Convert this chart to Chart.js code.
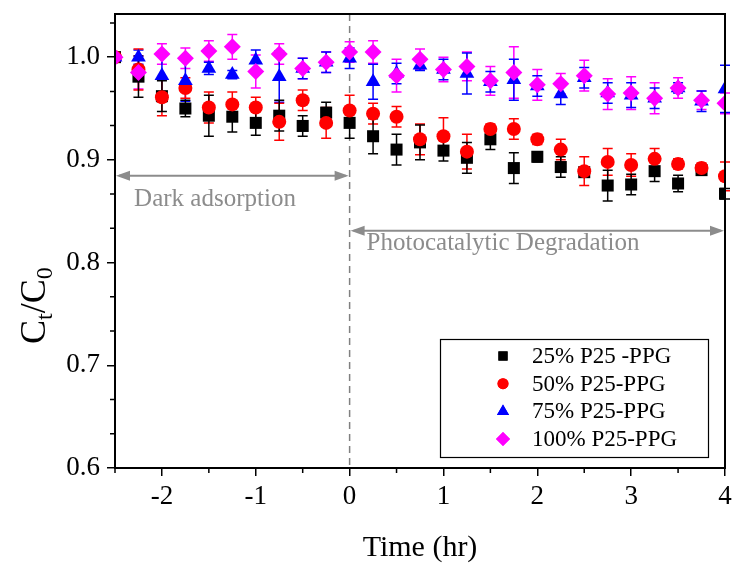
<!DOCTYPE html>
<html>
<head>
<meta charset="utf-8">
<script src="https://cdn.jsdelivr.net/npm/chart.js@4.4.3/dist/chart.umd.min.js"></script>
<style>
  html, body { margin: 0; padding: 0; background: #fff; }
  #wrap { width: 734px; height: 563px; }
</style>
</head>
<body>
<div id="wrap"><canvas id="myChart" width="734" height="563"></canvas></div>
<script>
const times = [-2.5, -2.25, -2, -1.75, -1.5, -1.25, -1, -0.75, -0.5, -0.25, 0, 0.25, 0.5, 0.75, 1, 1.25, 1.5, 1.75, 2, 2.25, 2.5, 2.75, 3, 3.25, 3.5, 3.75, 4]

const p25 = [1.000, 0.981, 0.962, 0.950, 0.943, 0.942, 0.936, 0.943, 0.933, 0.946, 0.936, 0.923, 0.910, 0.917, 0.909, 0.902, 0.920, 0.892, 0.903, 0.893, 0.888, 0.875, 0.876, 0.889, 0.877, 0.890, 0.867]
const p50 = [1.000, 0.988, 0.961, 0.970, 0.951, 0.954, 0.951, 0.937, 0.958, 0.936, 0.948, 0.945, 0.942, 0.920, 0.923, 0.908, 0.930, 0.930, 0.920, 0.910, 0.889, 0.898, 0.895, 0.901, 0.896, 0.892, 0.884]
const p75 = [1.000, 1.000, 0.982, 0.977, 0.989, 0.983, 0.997, 0.981, 0.989, 0.995, 0.999, 0.976, 0.984, 0.992, 0.988, 0.984, 0.976, 0.978, 0.972, 0.964, 0.980, 0.965, 0.963, 0.960, 0.970, 0.957, 0.969]
const p100 = [1.000, 0.985, 1.003, 0.999, 1.006, 1.010, 0.986, 1.003, 0.989, 0.995, 1.005, 1.005, 0.982, 0.998, 0.988, 0.991, 0.977, 0.985, 0.973, 0.974, 0.982, 0.964, 0.965, 0.960, 0.970, 0.958, 0.955]

// error bar half widths
const err25 = [0, 0.020, 0.015, 0.008, 0.020, 0.015, 0.012, 0.015, 0.010, 0.010, 0.015, 0.017, 0.015, 0.017, 0.010, 0.015, 0.010, 0.015, 0.005, 0.010, 0.005, 0.015, 0.010, 0.010, 0.008, 0.005, 0.005]
const err50 = [0, 0.020, 0.018, 0.010, 0.015, 0.012, 0.010, 0.018, 0.010, 0.015, 0.015, 0.010, 0.010, 0.015, 0.018, 0.017, 0.005, 0.010, 0.005, 0.010, 0.014, 0.013, 0.011, 0.010, 0.005, 0.005, 0.014]
const err75 = [0, 0.007, 0.020, 0.020, 0.006, 0.004, 0.010, 0.025, 0.010, 0.010, 0.010, 0.017, 0.010, 0.005, 0.010, 0.020, 0.010, 0.020, 0.010, 0.010, 0.010, 0.010, 0.012, 0.010, 0.005, 0.010, 0.023]
const err100 = [0, 0.016, 0.010, 0.010, 0.010, 0.012, 0.016, 0.010, 0.010, 0.010, 0.010, 0.011, 0.016, 0.010, 0.012, 0.014, 0.014, 0.025, 0.015, 0.010, 0.015, 0.015, 0.016, 0.015, 0.010, 0.009, 0.010]

const seriesLabels = ['25% P25 -PPG', '50% P25-PPG', '75% P25-PPG', '100% P25-PPG']
const xTicks = [-2, -1, 0, 1, 2, 3, 4]
const yTicks = [0.6, 0.7, 0.8, 0.9, 1.0]

const serif = '"Liberation Serif", "Times New Roman", serif'

const series = [
  {label: seriesLabels[0], values: p25, errs: err25, color: '#000000', style: 'rect', radius: 8.5, order: 4},
  {label: seriesLabels[1], values: p50, errs: err50, color: '#ff0000', style: 'circle', radius: 7, order: 3},
  {label: seriesLabels[2], values: p75, errs: err75, color: '#0000ff', style: 'triangle', radius: 8.5, order: 2},
  {label: seriesLabels[3], values: p100, errs: err100, color: '#ff00ff', style: 'rectRot', radius: 8.5, order: 1}
]

const datasets = series.map(s => ({
  label: s.label,
  data: times.map((t, i) => ({x: t, y: s.values[i]})),
  pointStyle: s.style,
  pointRadius: s.radius,
  pointBackgroundColor: s.color,
  pointBorderColor: s.color,
  pointBorderWidth: 0,
  showLine: false,
  order: s.order
}))

const errorBars = {
  id: 'errorBars',
  beforeDatasetsDraw(chart) {
    const ctx = chart.ctx
    const xs = chart.scales.x, ys = chart.scales.y
    ctx.save()
    series.slice().reverse().forEach(s => {
      ctx.strokeStyle = s.color
      ctx.lineWidth = 1.5
      times.forEach((t, i) => {
        const e = s.errs[i]
        if (!e) return
        const px = xs.getPixelForValue(t)
        const top = ys.getPixelForValue(s.values[i] + e)
        const bot = ys.getPixelForValue(s.values[i] - e)
        ctx.beginPath()
        ctx.moveTo(px, top); ctx.lineTo(px, bot)
        ctx.moveTo(px - 5, top); ctx.lineTo(px + 5, top)
        ctx.moveTo(px - 5, bot); ctx.lineTo(px + 5, bot)
        ctx.stroke()
      })
    })
    ctx.restore()
  }
}

function arrowHead(ctx, x, y, dir) {
  ctx.beginPath()
  ctx.moveTo(x, y)
  ctx.lineTo(x - dir * 14, y - 5)
  ctx.lineTo(x - dir * 14, y + 5)
  ctx.closePath()
  ctx.fill()
}

const decorations = {
  id: 'decorations',
  beforeDatasetsDraw(chart) {
    const ctx = chart.ctx
    const xs = chart.scales.x, ys = chart.scales.y
    const a = chart.chartArea
    ctx.save()
    // dashed line at t = 0
    ctx.strokeStyle = '#808080'
    ctx.lineWidth = 1.5
    ctx.setLineDash([7, 5])
    const x0 = xs.getPixelForValue(0)
    ctx.beginPath(); ctx.moveTo(x0, a.top); ctx.lineTo(x0, a.bottom); ctx.stroke()
    ctx.setLineDash([])
    // arrows
    ctx.fillStyle = '#8c8c8c'
    ctx.strokeStyle = '#8c8c8c'
    ctx.lineWidth = 2
    const yd = ys.getPixelForValue(0.8845)
    const xl = xs.getPixelForValue(-2.5)
    ctx.beginPath(); ctx.moveTo(xl + 4, yd); ctx.lineTo(x0 - 4, yd); ctx.stroke()
    arrowHead(ctx, xl + 1, yd, -1)
    arrowHead(ctx, x0 - 1, yd, 1)
    const yp = ys.getPixelForValue(0.831)
    const xr = xs.getPixelForValue(4)
    ctx.beginPath(); ctx.moveTo(x0 + 4, yp); ctx.lineTo(xr - 4, yp); ctx.stroke()
    arrowHead(ctx, x0 + 1, yp, -1)
    arrowHead(ctx, xr - 1, yp, 1)
    ctx.fillStyle = '#8c8c8c'
    ctx.font = '25px ' + serif
    ctx.textAlign = 'center'
    ctx.textBaseline = 'middle'
    ctx.fillText('Dark adsorption', 215, yd + 24)
    ctx.fillText('Photocatalytic Degradation', 503, yp + 13)
    ctx.restore()
  },
  afterDraw(chart) {
    const ctx = chart.ctx
    const xs = chart.scales.x, ys = chart.scales.y
    const a = chart.chartArea
    ctx.save()
    // frame
    ctx.strokeStyle = '#000'
    ctx.lineWidth = 2
    ctx.strokeRect(a.left, a.top, a.right - a.left, a.bottom - a.top)
    // minor ticks
    ctx.lineWidth = 1.5
    ctx.beginPath()
    for (let t = -2.5; t <= 4; t += 1) {
      const px = xs.getPixelForValue(t)
      ctx.moveTo(px, a.bottom); ctx.lineTo(px, a.bottom + 5)
    }
    for (let k = 0; k <= 13; k++) {
      const v = 0.6 + k / 30
      if (k % 3 === 0) continue
      const py = ys.getPixelForValue(v)
      ctx.moveTo(a.left, py); ctx.lineTo(a.left - 5, py)
    }
    ctx.stroke()
    // axis titles
    ctx.fillStyle = '#000'
    ctx.font = '30px ' + serif
    ctx.textAlign = 'center'
    ctx.textBaseline = 'middle'
    ctx.fillText('Time (hr)', 420, 548)
    ctx.translate(36, 292)
    ctx.rotate(-Math.PI / 2)
    ctx.textAlign = 'left'
    const big = '36px ' + serif, small = '24px ' + serif
    let cx = -52
    ctx.font = big; ctx.fillText('C', cx, 0); cx += ctx.measureText('C').width
    ctx.font = small; ctx.fillText('t', cx, 10); cx += ctx.measureText('t').width
    ctx.font = big; ctx.fillText('/C', cx, 0); cx += ctx.measureText('/C').width
    ctx.font = small; ctx.fillText('0', cx, 10)
    ctx.setTransform(1, 0, 0, 1, 0, 0)
    // legend
    ctx.lineWidth = 1.2
    ctx.strokeStyle = '#000'
    ctx.strokeRect(440.5, 339.5, 268, 118)
    ctx.font = '23px ' + serif
    ctx.textAlign = 'left'
    ctx.textBaseline = 'middle'
    const sizes = [6.5, 5.5, 7, 7]
    series.forEach((s, i) => {
      const y = 356 + i * 27.7
      ctx.fillStyle = s.color
      ctx.strokeStyle = s.color
      Chart.helpers.drawPoint(ctx, {pointStyle: s.style, radius: sizes[i], rotation: 0, borderWidth: 0}, 503, y)
      ctx.fill()
      ctx.fillStyle = '#000'
      ctx.fillText(s.label, 532, y + 1)
    })
    ctx.restore()
  }
}

const config = {
  type: 'scatter',
  data: {datasets: datasets},
  options: {
    responsive: false,
    animation: false,
    layout: {padding: {left: 0, right: 9, top: 14, bottom: 0}},
    plugins: {legend: {display: false}, tooltip: {enabled: false}},
    scales: {
      x: {
        type: 'linear',
        min: -2.5,
        max: 4,
        afterBuildTicks: (scale) => { scale.ticks = xTicks.map(v => ({value: v})) },
        afterFit: (scale) => { scale.height = 95; scale.paddingLeft = 0; scale.paddingRight = 0 },
        border: {display: true, color: '#000', width: 2},
        grid: {display: true, drawOnChartArea: false, drawTicks: true, tickLength: 8, color: '#000', lineWidth: 1.5},
        ticks: {
          color: '#000',
          padding: 5,
          maxRotation: 0,
          font: {family: serif, size: 27},
          callback: (v) => String(v)
        }
      },
      y: {
        type: 'linear',
        min: 0.6,
        max: 1.042,
        afterBuildTicks: (scale) => { scale.ticks = yTicks.map(v => ({value: v})) },
        afterFit: (scale) => { scale.width = 115; scale.paddingTop = 0; scale.paddingBottom = 0 },
        border: {display: true, color: '#000', width: 2},
        grid: {display: true, drawOnChartArea: false, drawTicks: true, tickLength: 8, color: '#000', lineWidth: 1.5},
        ticks: {
          color: '#000',
          padding: 7,
          font: {family: serif, size: 27},
          callback: (v) => Number(v).toFixed(1)
        }
      }
    }
  },
  plugins: [decorations, errorBars]
}

new Chart(document.getElementById('myChart'), config)
</script>
</body>
</html>
